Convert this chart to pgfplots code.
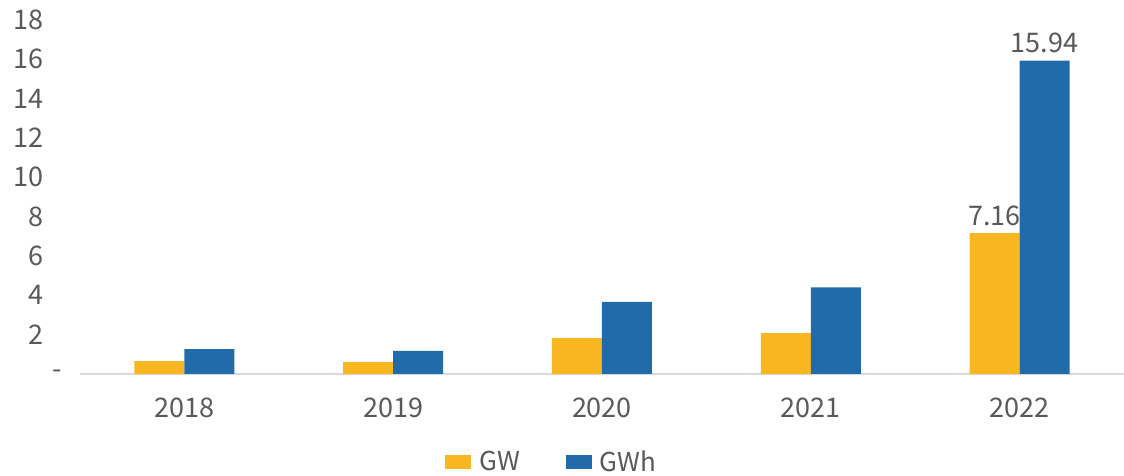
\documentclass[border=0pt]{standalone}
\usepackage{fontspec}
\setmainfont{Noto Sans CJK SC}
\usepackage{pgfplots}
\pgfplotsset{compat=1.18}
\definecolor{cGW}{HTML}{F8B620}
\definecolor{cGWh}{HTML}{226BAB}
\definecolor{txt}{HTML}{595959}
\definecolor{axl}{HTML}{D9D9D9}

\begin{document}
\begin{tikzpicture}[x=1pt,y=1pt]
\begin{axis}[
  at={(80pt,102pt)}, anchor=south west,
  width=1044pt, height=354pt, scale only axis,
  ybar=0pt, bar width=50pt,
  xmin=-0.5, xmax=4.5, ymin=0, ymax=18,
  xtick={0,...,4}, xticklabels={2018,2019,2020,2021,2022},
  ytick={2,4,...,18},
  extra y ticks={0}, extra y tick labels={-},
  extra y tick style={yticklabel style={xshift=18pt}},
  axis x line*=bottom, axis y line*=left,
  axis line style={-},
  x axis line style={draw=axl, line width=1.5pt},
  y axis line style={draw=none},
  major tick length=0pt,
  /pgf/number format/assume math mode=true,
  tick label style={font=\fontsize{27}{32}\selectfont, text=txt},
  yticklabel style={xshift=-33pt},
  xticklabel style={yshift=-20pt},
  point meta=explicit symbolic,
  nodes near coords={\pgfplotspointmeta},
  every node near coord/.append style={font=\fontsize{27}{32}\selectfont, text=txt, yshift=4pt},
  legend style={at={(0.452,-0.285)}, anchor=south, draw=none, fill=none, inner sep=0pt,
    legend columns=2, font=\fontsize{26}{30}\selectfont, text=txt,
    /tikz/every odd column/.append style={column sep=6pt},
    /tikz/every even column/.append style={column sep=44pt}},
]
\addplot[fill=cGW, draw=none,
  legend image code/.code={\fill[cGW] (0pt,-7pt) rectangle (26pt,7pt);}]
  coordinates {(0,0.66) [{}] (1,0.60) [{}] (2,1.83) [{}] (3,2.08) [{}] (4,7.16) [7.16]};
\addplot[fill=cGWh, draw=none,
  legend image code/.code={\fill[cGWh] (0pt,-7pt) rectangle (26pt,7pt);}]
  coordinates {(0,1.26) [{}] (1,1.18) [{}] (2,3.67) [{}] (3,4.40) [{}] (4,15.94) [15.94]};
\legend{GW,GWh}
\end{axis}
\pgfresetboundingbox
\path (0,0) rectangle (1124,476);
\end{tikzpicture}
\end{document}
